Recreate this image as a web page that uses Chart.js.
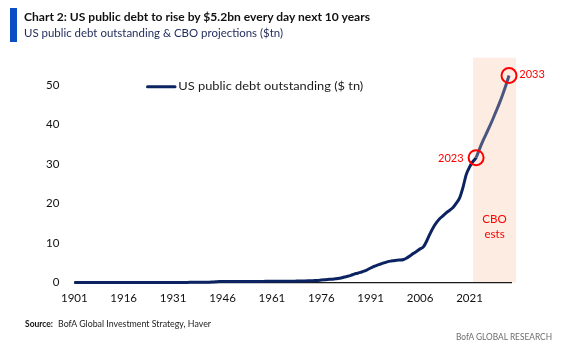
<!DOCTYPE html>
<html><head><meta charset="utf-8">
<script src="https://cdn.jsdelivr.net/npm/chart.js@4.4.1/dist/chart.umd.min.js"></script>
<style>
html,body{margin:0;padding:0;background:#fff;}
body{width:572px;height:344px;position:relative;overflow:hidden;font-family:Lato,sans-serif;}
#c{position:absolute;left:0;top:0;}
.t{position:absolute;white-space:nowrap;line-height:1;transform-origin:0 0;}
</style></head><body>
<canvas id="c" width="572" height="344"></canvas>
<div style="position:absolute;left:10px;top:8.3px;width:6.7px;height:33.4px;background:#0a4fc4"></div>
<div class="t" data-w="346" style="left:24px;top:11.1px;font-size:12px;font-weight:700;color:#111">Chart 2: US public debt to rise by $5.2bn every day next 10 years</div>
<div class="t" data-w="259" style="left:24px;top:28px;font-size:10.5px;color:#1f2a5a">US public debt outstanding &amp; CBO projections ($tn)</div>
<div class="t" data-w="28" style="left:25px;top:319.3px;font-size:9.5px;font-weight:700;color:#111">Source:</div>
<div class="t" data-w="153" style="left:58px;top:319.3px;font-size:9.5px;color:#222">BofA Global Investment Strategy, Haver</div>
<div class="t" data-w="96" style="left:456px;top:331.6px;font-size:9.5px;color:#6d6d6d">BofA GLOBAL RESEARCH</div>
<script>
const years = [1901,1902,1903,1904,1905,1906,1907,1908,1909,1910,1911,1912,1913,1914,1915,1916,1917,1918,1919,1920,
1921,1922,1923,1924,1925,1926,1927,1928,1929,1930,1931,1932,1933,1934,1935,1936,1937,1938,1939,1940,
1941,1942,1943,1944,1945,1946,1947,1948,1949,1950,1951,1952,1953,1954,1955,1956,1957,1958,1959,1960,
1961,1962,1963,1964,1965,1966,1967,1968,1969,1970,1971,1972,1973,1974,1975,1976,1977,1978,1979,1980,
1981,1982,1983,1984,1985,1986,1987,1988,1989,1990,1991,1992,1993,1994,1995,1996,1997,1998,1999,2000,
2001,2002,2003,2004,2005,2006,2007,2008,2009,2010,2011,2012,2013,2014,2015,2016,2017,2018,2019,2020,
2021,2022,2023,2024,2025,2026,2027,2028,2029,2030,2031,2032,2033];
const debt = [0.001,0.001,0.001,0.001,0.001,0.001,0.001,0.001,0.001,0.001,0.001,0.001,0.001,0.001,0.001,0.001,0.003,0.012,0.025,0.024,
0.024,0.023,0.022,0.021,0.021,0.020,0.018,0.018,0.017,0.016,0.017,0.019,0.023,0.027,0.029,0.034,0.036,0.037,0.040,0.043,
0.049,0.072,0.137,0.201,0.259,0.269,0.258,0.252,0.253,0.257,0.255,0.259,0.266,0.271,0.274,0.273,0.271,0.276,0.285,0.286,
0.289,0.298,0.306,0.312,0.317,0.320,0.326,0.348,0.354,0.371,0.398,0.427,0.458,0.475,0.533,0.620,0.699,0.772,0.827,0.908,
0.998,1.14,1.38,1.57,1.82,2.13,2.35,2.60,2.86,3.23,3.67,4.07,4.41,4.69,4.97,5.22,5.41,5.53,5.66,5.67,
5.81,6.23,6.78,7.38,7.93,8.51,9.01,10.5,12.3,13.9,15.2,16.2,16.9,17.7,18.3,19.0,20.1,21.4,24.0,27.3,
29.2,30.6,31.6,33.7,35.7,37.5,39.3,41.2,43.2,45.2,47.4,49.8,52.4];
const xTickLabels = ['1901','1916','1931','1946','1961','1976','1991','2006','2021'];
const yTickValues = [0,10,20,30,40,50];
const seriesLabel = 'US public debt outstanding ($ tn)';
const projectionFrom = 2023;
const markedYears = [2023, 2033];
const shadeFrom = 2022.1, shadeTo = 2035.1;
const shadeText = ['CBO', 'ests'];

const histColor = '#0b2461', projColor = '#4b5680', red = '#ff0000';

function fit(){
  document.querySelectorAll('[data-w]').forEach(el=>{
    el.style.transform='none';
    const w=el.getBoundingClientRect().width;
    el.style.transform='scaleX('+(+el.dataset.w/w)+')';
  });
}
fit();

const decor = {
  id:'decor',
  beforeDraw(chart){
    const {ctx, scales:{x,y}, chartArea} = chart;
    ctx.save();
    ctx.fillStyle = '#fcece2';
    const x0 = x.getPixelForValue(shadeFrom), x1 = x.getPixelForValue(shadeTo);
    ctx.fillRect(x0, chartArea.top, x1-x0, y.getPixelForValue(0)-chartArea.top);
    ctx.restore();
  },
  afterDatasetsDraw(chart){
    const {ctx, scales:{x,y}} = chart;
    const meta = chart.getDatasetMeta(0);
    ctx.save();
    ctx.fillStyle = red;
    ctx.font = '11px Lato';
    ctx.textBaseline = 'middle';
    markedYears.forEach((yr,k)=>{
      const p = meta.data[years.indexOf(yr)];
      if(k===0){ ctx.textAlign='right'; ctx.fillText(String(yr), p.x-12.5, p.y+1); }
      else { ctx.textAlign='left'; ctx.fillText(String(yr), p.x+10.3, p.y-1.5); }
    });
    ctx.font = '11.5px Lato';
    ctx.textAlign = 'center';
    const cx = (x.getPixelForValue(shadeFrom)+x.getPixelForValue(shadeTo))/2;
    ctx.fillText(shadeText[0], cx, y.getPixelForValue(16));
    ctx.fillText(shadeText[1], cx, y.getPixelForValue(12.2));
    // legend
    ctx.strokeStyle = histColor; ctx.lineWidth = 3; ctx.lineCap='round';
    ctx.beginPath(); ctx.moveTo(147.5,86.7); ctx.lineTo(175,86.7); ctx.stroke();
    ctx.fillStyle = '#1a1a1a';
    ctx.font = '12px Lato';
    ctx.textAlign = 'left';
    const w = ctx.measureText(seriesLabel).width, s = Math.min(1.1,185/w);
    ctx.translate(178.3, 86.5); ctx.scale(s,1);
    ctx.fillText(seriesLabel, 0, 0);
    ctx.restore();
  }
};

new Chart(document.getElementById('c'), {
  type:'line',
  data:{datasets:[{
    label: seriesLabel,
    data: years.map((yr,i)=>({x:yr, y:debt[i]})),
    borderColor: histColor,
    borderWidth: 3,
    cubicInterpolationMode: 'monotone',
    segment:{ borderColor: c => years[c.p0DataIndex] >= projectionFrom ? projColor : histColor },
    pointRadius: c => markedYears.includes(years[c.dataIndex]) ? 7.5 : 0,
    pointHoverRadius: 0,
    pointBorderColor: red,
    pointBackgroundColor: 'rgba(0,0,0,0)',
    pointBorderWidth: 2,
    clip: false,
    fill: false
  }]},
  options:{
    responsive:false, animation:false, devicePixelRatio:1,
    layout:{padding:{top:57.7, right:61, left:0, bottom:0}},
    plugins:{legend:{display:false}, tooltip:{enabled:false}},
    scales:{
      x:{type:'linear', min:1901, max:2033.6,
        afterBuildTicks: s => { s.ticks = xTickLabels.map(v=>({value:+v})); },
        afterFit: s => { s.height = 61.5; },
        ticks:{autoSkip:false, maxRotation:0, padding:9, color:'#111', font:{family:'Lato', size:11.5}, callback:(v,i)=>xTickLabels[i]},
        grid:{display:false, drawTicks:false},
        border:{display:true, color:'#1a1a1a', width:1.3}
      },
      y:{min:0, max:56.9,
        afterBuildTicks: s => { s.ticks = yTickValues.map(v=>({value:v})); },
        afterFit: s => { s.width = 74.3; },
        ticks:{padding:15, color:'#111', font:{family:'Lato', size:11.5}},
        grid:{display:false, drawTicks:false},
        border:{display:false}
      }
    }
  },
  plugins:[decor]
});
if(document.fonts && document.fonts.ready) document.fonts.ready.then(fit);
</script>
</body></html>
